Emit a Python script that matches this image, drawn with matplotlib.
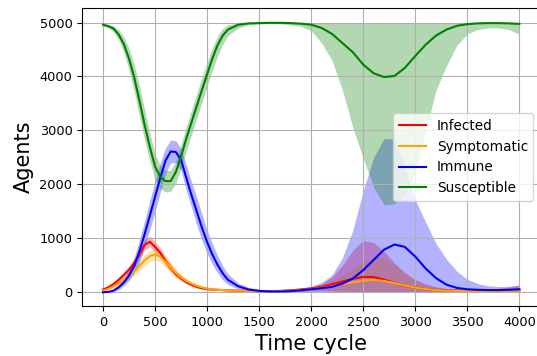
import numpy as np
import matplotlib
matplotlib.use("Agg")
import matplotlib.pyplot as plt

# time cycles: finer sampling over the first wave
ciclos = np.concatenate([np.arange(0, 1201, 50), np.arange(1300, 4001, 100)])

infectados = [50, 90, 150, 230, 320, 420, 540, 700, 880, 935, 840, 730, 580, 450, 340, 260, 190, 140, 100, 75, 60, 50, 45, 40, 35,
              30, 25, 20, 20, 25, 35, 50, 70, 100, 150, 200, 250, 285, 280, 235, 175, 120, 85, 60, 45, 35, 30, 25, 25, 25, 30, 35, 40]
infectados_lo = [30, 65, 115, 180, 260, 350, 460, 610, 780, 840, 750, 640, 500, 380, 280, 210, 150, 110, 80, 58, 45, 38, 35, 32, 28,
                 22, 18, 12, 10, 10, 15, 20, 25, 30, 30, 20, 5, 0, 0, 0, 0, 0, 0, 0, 0, 5, 8, 8, 6, 4, 2, 0, 0]
infectados_hi = [70, 120, 190, 280, 380, 490, 620, 790, 980, 1040, 940, 820, 660, 520, 400, 310, 230, 170, 125, 95, 75, 62, 55, 48, 42,
                 38, 32, 28, 30, 40, 55, 75, 100, 160, 280, 500, 780, 960, 920, 760, 540, 360, 230, 150, 100, 70, 55, 50, 50, 55, 70, 95, 140]

sintomaticos = [30, 60, 110, 165, 225, 305, 390, 490, 590, 670, 700, 660, 560, 460, 360, 280, 210, 160, 120, 90, 70, 55, 45, 40, 35,
                30, 25, 20, 20, 20, 25, 35, 55, 80, 110, 150, 185, 215, 230, 210, 170, 125, 85, 60, 40, 30, 25, 20, 20, 20, 25, 25, 30]
sintomaticos_lo = [15, 40, 80, 120, 170, 240, 310, 400, 490, 570, 600, 560, 460, 370, 280, 220, 160, 120, 90, 65, 50, 40, 32, 30, 26,
                   24, 20, 14, 14, 10, 10, 15, 25, 30, 20, 0, 0, 0, 0, 0, 0, 0, 0, 0, 0, 0, 0, 5, 5, 5, 5, 5, 5]
sintomaticos_hi = [45, 80, 140, 210, 280, 370, 470, 580, 690, 770, 800, 760, 660, 550, 440, 340, 260, 200, 150, 115, 90, 70, 58, 50, 44,
                   36, 30, 26, 26, 30, 40, 55, 85, 130, 200, 310, 430, 560, 650, 640, 520, 370, 240, 150, 95, 65, 50, 42, 40, 42, 50, 60, 75]

inmunes = [0, 5, 30, 90, 180, 310, 490, 760, 1080, 1420, 1770, 2120, 2440, 2610, 2600, 2450, 2120, 1800, 1500, 1200, 930, 700, 510, 350, 230,
           110, 50, 25, 15, 15, 20, 35, 55, 75, 100, 160, 255, 410, 600, 790, 885, 840, 660, 440, 260, 140, 80, 55, 45, 40, 40, 45, 55]
inmunes_lo = [0, 0, 10, 50, 120, 220, 360, 570, 850, 1160, 1500, 1850, 2200, 2400, 2400, 2250, 1900, 1570, 1250, 960, 720, 520, 360, 230, 140,
              60, 20, 5, 0, 0, 0, 0, 0, 0, 0, 0, 0, 0, 0, 0, 0, 0, 0, 0, 0, 0, 0, 0, 0, 0, 0, 0, 0]
inmunes_hi = [10, 20, 60, 140, 260, 420, 650, 970, 1330, 1700, 2060, 2400, 2680, 2820, 2810, 2660, 2360, 2050, 1760, 1450, 1150, 900, 680, 490, 340,
              170, 90, 55, 45, 50, 60, 80, 110, 180, 320, 640, 1150, 1880, 2500, 2850, 2840, 2300, 1710, 1300, 900, 610, 390, 240, 160, 120, 105, 110, 130]

susceptibles = [4960, 4935, 4890, 4780, 4600, 4330, 3980, 3550, 3100, 2690, 2330, 2140, 2060, 2060, 2230, 2520, 2850, 3150, 3450, 3750, 4040, 4330, 4580, 4760, 4870,
                4960, 4985, 4990, 4995, 4995, 4990, 4980, 4960, 4900, 4790, 4620, 4450, 4220, 4060, 3990, 4010, 4160, 4380, 4590, 4760, 4870, 4940, 4970, 4985, 4990, 4990, 4985, 4975]
susceptibles_lo = [4940, 4900, 4830, 4680, 4450, 4120, 3720, 3270, 2820, 2430, 2100, 1920, 1860, 1870, 2030, 2300, 2620, 2920, 3220, 3520, 3820, 4110, 4380, 4600, 4760,
                   4900, 4960, 4975, 4980, 4975, 4960, 4930, 4850, 4620, 4300, 3750, 3050, 2480, 1950, 1620, 1640, 1820, 2200, 3000, 3750, 4200, 4580, 4790, 4870, 4900, 4900, 4870, 4780]
susceptibles_hi = [4980, 4965, 4940, 4870, 4730, 4520, 4220, 3820, 3380, 2950, 2560, 2350, 2260, 2260, 2430, 2740, 3070, 3380, 3680, 3980, 4260, 4530, 4750, 4890, 4960,
                   4995, 5000, 5000, 5000, 5000, 5000, 5000, 5000, 5000, 5000, 5000, 5000, 5000, 5000, 5000, 5000, 5000, 5000, 5000, 5000, 5000, 5000, 5000, 5000, 5000, 5000, 5000, 5000]

series = [
    ('Infected', 'red', infectados, infectados_lo, infectados_hi),
    ('Symptomatic', 'orange', sintomaticos, sintomaticos_lo, sintomaticos_hi),
    ('Immune', 'blue', inmunes, inmunes_lo, inmunes_hi),
    ('Susceptible', 'green', susceptibles, susceptibles_lo, susceptibles_hi),
]

fig = plt.figure(figsize=(5.37, 3.56), dpi=100)
ax = fig.add_axes([82.2 / 537, 50 / 356, 458 / 537, 298 / 356])

for nombre, color, media, bajo, alto in series:
    ax.plot(ciclos, media, color=color, label=nombre)
    ax.fill_between(ciclos, bajo, alto, color=color, alpha=0.3, linewidth=0)

ax.set_xlim(-200, 4200)
ax.set_ylim(-255, 5270)
ax.set_xticks([0, 500, 1000, 1500, 2000, 2500, 3000, 3500, 4000])
ax.set_yticks([0, 1000, 2000, 3000, 4000, 5000])
ax.tick_params(labelsize=9.3)
ax.set_xlabel('Time cycle', fontsize=15)
ax.set_ylabel('Agents', fontsize=15)
ax.grid(True)
ax.legend(loc='center right', fontsize=9.8)

fig.savefig('out.png', dpi=100)
